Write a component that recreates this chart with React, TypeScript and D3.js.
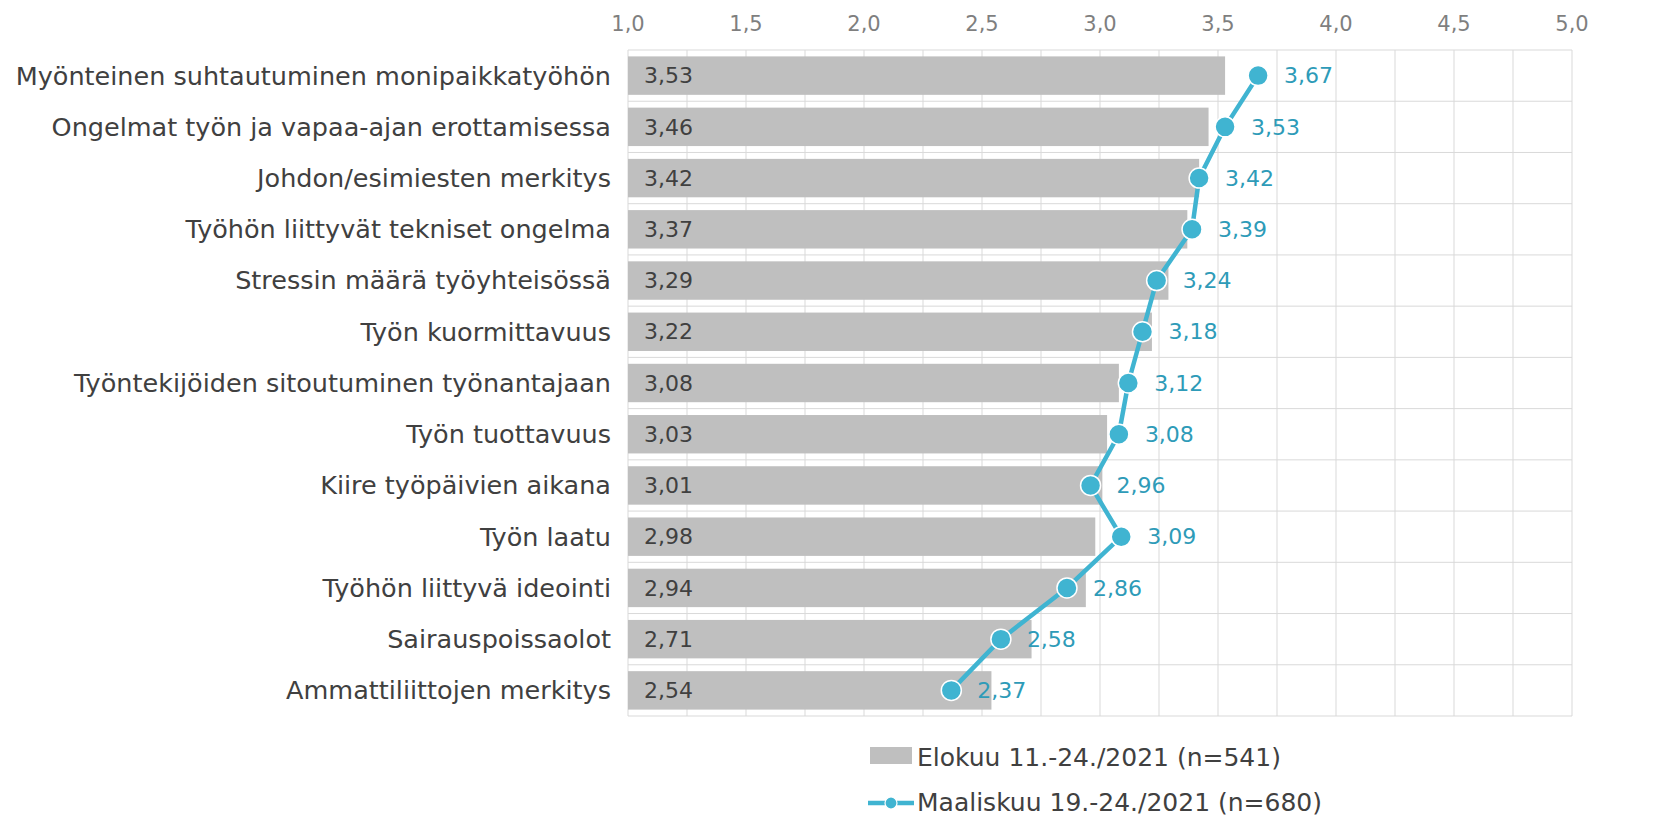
import React, { useRef, useEffect } from 'react';
import * as d3 from 'd3';

const categories = [
  'Myönteinen suhtautuminen monipaikkatyöhön',
  'Ongelmat työn ja vapaa-ajan erottamisessa',
  'Johdon/esimiesten merkitys',
  'Työhön liittyvät tekniset ongelma',
  'Stressin määrä työyhteisössä',
  'Työn kuormittavuus',
  'Työntekijöiden sitoutuminen työnantajaan',
  'Työn tuottavuus',
  'Kiire työpäivien aikana',
  'Työn laatu',
  'Työhön liittyvä ideointi',
  'Sairauspoissaolot',
  'Ammattiliittojen merkitys',
];
const elokuu = [3.53, 3.46, 3.42, 3.37, 3.29, 3.22, 3.08, 3.03, 3.01, 2.98, 2.94, 2.71, 2.54];
const maaliskuu = [3.67, 3.53, 3.42, 3.39, 3.24, 3.18, 3.12, 3.08, 2.96, 3.09, 2.86, 2.58, 2.37];
const ticks = [1, 1.5, 2, 2.5, 3, 3.5, 4, 4.5, 5];
const seriesNames = ['Elokuu 11.-24./2021 (n=541)', 'Maaliskuu 19.-24./2021 (n=680)'];

const fmt = (v: number, d: number) => v.toFixed(d).replace('.', ',');

const App: React.FC = () => {
  const ref = useRef<SVGSVGElement>(null);

  useEffect(() => {
    document.body.style.margin = '0';
    const W = 1659, H = 818;
    const font = 'DejaVu Sans, Verdana, sans-serif';
    const svg = d3.select(ref.current);
    svg.selectAll('*').remove();
    svg.attr('width', W).attr('height', H).style('background', '#fff');

    const x = d3.scaleLinear().domain([1, 5]).range([628, 1572]);
    const y = d3.scaleBand<string>().domain(categories).range([50, 716]).paddingInner(0.25).paddingOuter(0.125);
    const rows = d3.scaleBand<string>().domain(categories).range([50, 716]);

    // grid
    const g = svg.append('g');
    g.selectAll('.vg')
      .data(d3.range(1, 5.001, 0.25))
      .enter().append('line')
      .attr('x1', d => x(d)).attr('x2', d => x(d))
      .attr('y1', 50).attr('y2', 716)
      .attr('stroke', '#d9d9d9').attr('stroke-width', 1);
    g.selectAll('.hg')
      .data(categories.map(c => rows(c)!).concat([716]))
      .enter().append('line')
      .attr('x1', x(1)).attr('x2', x(5))
      .attr('y1', d => d).attr('y2', d => d)
      .attr('stroke', '#d9d9d9').attr('stroke-width', 1);

    // top axis labels
    svg.selectAll('.tick')
      .data(ticks)
      .enter().append('text')
      .attr('x', d => x(d)).attr('y', 31)
      .attr('text-anchor', 'middle')
      .attr('font-family', font).attr('font-size', 21)
      .attr('fill', '#7f7f7f')
      .text(d => fmt(d, 1));

    // category labels
    svg.selectAll('.cat')
      .data(categories)
      .enter().append('text')
      .attr('x', 611)
      .attr('y', d => rows(d)! + rows.bandwidth() / 2)
      .attr('dy', '0.35em')
      .attr('text-anchor', 'end')
      .attr('font-family', font).attr('font-size', 25.5)
      .attr('fill', '#404040')
      .text(d => d);

    // bars
    svg.selectAll('.bar')
      .data(elokuu)
      .enter().append('rect')
      .attr('x', x(1))
      .attr('y', (d, i) => y(categories[i])!)
      .attr('width', d => x(d) - x(1))
      .attr('height', y.bandwidth())
      .attr('fill', '#bfbfbf');

    svg.selectAll('.barlbl')
      .data(elokuu)
      .enter().append('text')
      .attr('x', x(1) + 16)
      .attr('y', (d, i) => rows(categories[i])! + rows.bandwidth() / 2)
      .attr('dy', '0.35em')
      .attr('font-family', font).attr('font-size', 22)
      .attr('fill', '#404040')
      .text(d => fmt(d, 2));

    // line
    const cy = (i: number) => rows(categories[i])! + rows.bandwidth() / 2;
    const line = d3.line<number>().x(d => x(d)).y((d, i) => cy(i));
    svg.append('path')
      .datum(maaliskuu)
      .attr('d', line)
      .attr('fill', 'none')
      .attr('stroke', '#40b4d1')
      .attr('stroke-width', 4.5)
      .attr('stroke-linejoin', 'round');
    svg.selectAll('.dot')
      .data(maaliskuu)
      .enter().append('circle')
      .attr('cx', d => x(d)).attr('cy', (d, i) => cy(i))
      .attr('r', 10)
      .attr('fill', '#40b4d1')
      .attr('stroke', '#fff').attr('stroke-width', 1.5);
    svg.selectAll('.dotlbl')
      .data(maaliskuu)
      .enter().append('text')
      .attr('x', d => x(d) + 26)
      .attr('y', (d, i) => cy(i))
      .attr('dy', '0.35em')
      .attr('font-family', font).attr('font-size', 22)
      .attr('fill', '#2e9bb8')
      .text(d => fmt(d, 2));

    // legend
    const lg = svg.append('g').attr('font-family', font).attr('font-size', 25).attr('fill', '#404040');
    lg.append('rect').attr('x', 870).attr('y', 747).attr('width', 42).attr('height', 17).attr('fill', '#bfbfbf');
    lg.append('text').attr('x', 917).attr('y', 757).attr('dy', '0.35em').text(seriesNames[0]);
    lg.append('line').attr('x1', 868).attr('x2', 914).attr('y1', 803).attr('y2', 803)
      .attr('stroke', '#40b4d1').attr('stroke-width', 4.5);
    lg.append('circle').attr('cx', 891).attr('cy', 803).attr('r', 6)
      .attr('fill', '#40b4d1').attr('stroke', '#fff').attr('stroke-width', 1.2);
    lg.append('text').attr('x', 917).attr('y', 802).attr('dy', '0.35em').text(seriesNames[1]);
  }, []);

  return <svg ref={ref} style={{ display: 'block' }} />;
};

export default App;
